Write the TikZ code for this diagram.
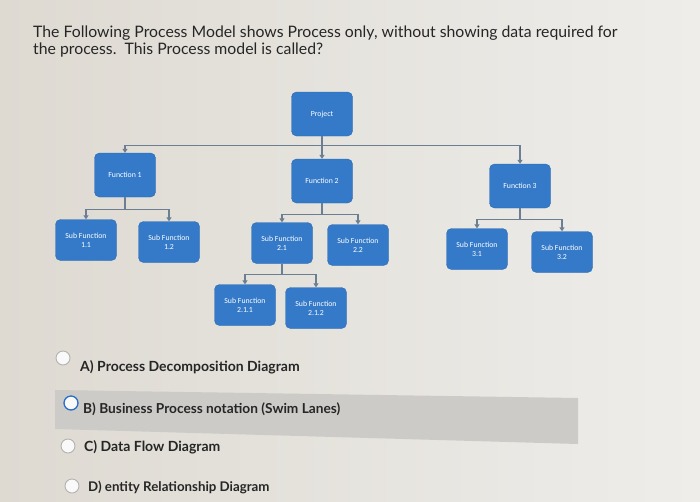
\documentclass[tikz,border=0pt]{standalone}
\usepackage{fontspec}
\setmainfont{Lato}
\newfontfamily\boxfont{Carlito}
\usetikzlibrary{positioning,calc,arrows.meta}
\definecolor{boxblue}{RGB}{52,122,200}
\definecolor{boxedge}{RGB}{42,104,178}
\definecolor{linkgrey}{RGB}{108,126,146}
\definecolor{paperdark}{RGB}{222,218,210}
\definecolor{paperlight}{RGB}{238,237,234}
\definecolor{bandgrey}{RGB}{204,203,200}
\definecolor{radioblue}{RGB}{40,110,200}
\tikzset{
  pbox/.style={draw=boxedge, fill=boxblue, rounded corners=5pt, minimum width=61pt,
    minimum height=41pt, text=white, align=center, inner sep=1pt,
    font=\boxfont\fontsize{7.8}{9}\selectfont},
  fbox/.style={pbox, minimum height=44pt},
  link/.style={draw=linkgrey, line width=1.4pt, -{Triangle[length=4pt,width=5pt]}},
  radio/.style={circle, draw=gray!60, fill=white!95!gray, minimum size=14pt,
    inner sep=0pt, line width=0.9pt},
  answer/.style={anchor=west, inner sep=0pt, text=black!85,
    font=\bfseries\fontsize{14}{16}\selectfont}
}
\newcommand{\pnode}[3]{\node [pbox] (#1) at (#2) {#3}}
\newcommand{\fnode}[3]{\node [fbox] (#1) at (#2) {#3}}

\begin{document}
\begin{tikzpicture}[x=1pt,y=-1pt]

\shade[left color=paperdark, right color=paperlight] (0,0) rectangle (700,501);
\useasboundingbox (0,0) rectangle (700,501);

% question
\node [anchor=base west, inner sep=0pt, align=left, text=black!85,
  font=\fontsize{15.8}{17}\selectfont] (Q) at (33,54)
  {The Following Process Model shows Process only, without showing data required for\\
   the process.\ \ This Process model is called?};

% hierarchy
\fnode{PRJ}{322,114}{Project};

\fnode{F1}{125,175}{Function 1};
\fnode{F2}{322,181}{Function 2};
\fnode{F3}{520,186}{Function 3};

\pnode{S11}{86,240}{Sub Function\\1.1};
\pnode{S12}{169,242}{Sub Function\\1.2};
\pnode{S21}{282,243}{Sub Function\\2.1};
\pnode{S22}{358,245}{Sub Function\\2.2};
\pnode{S31}{477,249}{Sub Function\\3.1};
\pnode{S32}{562,252}{Sub Function\\3.2};

\pnode{S211}{245,305}{Sub Function\\2.1.1};
\pnode{S212}{316,308}{Sub Function\\2.1.2};

\draw[link] (PRJ.south) -- ++(0,9) -| (F1.north);
\draw[link] (PRJ.south) -- ++(0,9) -| (F3.north);
\draw[link] (PRJ.south) -- (F2.north);

\draw[link] (F1.south) -- ++(0,12) -| (S11.north);
\draw[link] (F1.south) -- ++(0,12) -| (S12.north);
\draw[link] (F2.south) -- ++(0,11) -| (S21.north);
\draw[link] (F2.south) -- ++(0,11) -| (S22.north);
\draw[link] (F3.south) -- ++(0,11) -| (S31.north);
\draw[link] (F3.south) -- ++(0,11) -| (S32.north);

\draw[link] (S21.south) -- ++(0,11) -| (S211.north);
\draw[link] (S21.south) -- ++(0,11) -| (S212.north);

% answers
\fill[bandgrey] (55,390) -- (578,398) -- (578,444) -- (55,429) -- cycle;

\node [radio] (RA) at (63,358) {};
\node [answer] (A) at (80,367) {A) Process Decomposition Diagram};
\node [radio, draw=radioblue, line width=1.3pt] (RB) at (71,403) {};
\node [answer, font=\bfseries\fontsize{13.7}{16}\selectfont] (B) at (83,409)
  {B) Business Process notation (Swim Lanes)};
\node [radio] (RC) at (68,446) {};
\node [answer] (C) at (84,447) {C) Data Flow Diagram};
\node [radio] (RD) at (72,486) {};
\node [answer, font=\bfseries\fontsize{13.3}{16}\selectfont] (D) at (88,487)
  {D) entity Relationship Diagram};

\end{tikzpicture}
\end{document}
